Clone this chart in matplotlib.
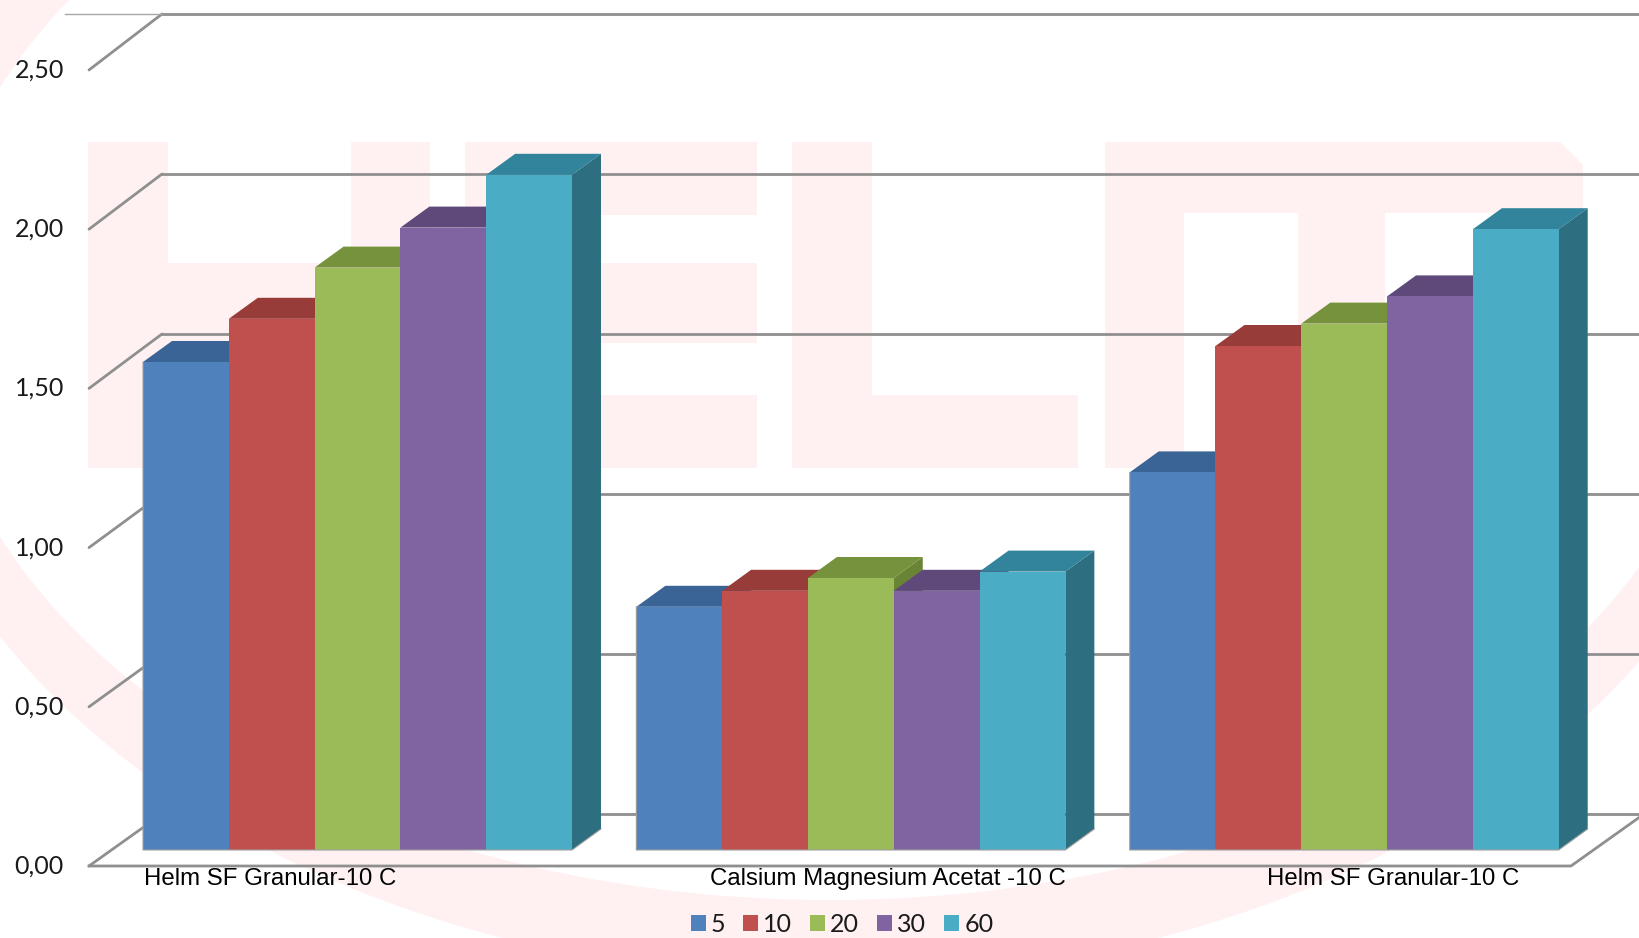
import matplotlib
matplotlib.use('Agg')
import matplotlib.pyplot as plt
from matplotlib.patches import Ellipse, Patch, Polygon, Rectangle

categories = ['Helm SF Granular-10 C', 'Calsium Magnesium Acetat -10 C', 'Helm SF Granular-10 C']
series_names = ['5', '10', '20', '30', '60']
values_5 = [1.525, 0.76, 1.18]
values_10 = [1.66, 0.81, 1.575]
values_20 = [1.82, 0.85, 1.645]
values_30 = [1.945, 0.81, 1.73]
values_60 = [2.11, 0.87, 1.94]
all_values = [values_5, values_10, values_20, values_30, values_60]
y_ticks = [0.0, 0.5, 1.0, 1.5, 2.0, 2.5]
y_labels = ['0,00', '0,50', '1,00', '1,50', '2,00', '2,50']

front_colors = ['#4f81bd', '#c0504d', '#9bbb59', '#8064a2', '#4bacc6']
top_colors = ['#3a6496', '#983c39', '#76923c', '#5f497a', '#31849b']
side_colors = ['#325a88', '#8a3633', '#6a8436', '#55416e', '#2d6e80']
grid_color = '#8f8f8f'
pink = '#fff1f1'

W, H = 1640, 938
PX_PER_X = 85.8   # one bar wide
PX_PER_Y = 320.0  # one unit on the value axis
X0, Y0 = 143.0, 850.0


def X(px):
    return (px - X0) / PX_PER_X


def Y(py):
    return (Y0 - py) / PX_PER_Y


plt.rcParams['font.family'] = ['Lato', 'DejaVu Sans']

fig = plt.figure(figsize=(W / 100, H / 100), dpi=100, facecolor='white')
ax = fig.add_axes([0, 0, 1, 1])
ax.set_xlim(X(0), X(W))
ax.set_ylim(Y(H), Y(0))
ax.axis('off')


def px_rect(x0, y0, x1, y1, color=pink, z=1):
    ax.add_patch(Rectangle((X(x0), Y(y1)), (x1 - x0) / PX_PER_X, (y1 - y0) / PX_PER_Y,
                           facecolor=color, edgecolor='none', zorder=z))


# watermark behind the chart
ax.add_patch(Ellipse((X(830), Y(312)), 2 * 950 / PX_PER_X, 2 * 667 / PX_PER_Y,
                     facecolor=pink, edgecolor='none', zorder=0))
ax.add_patch(Ellipse((X(830), Y(312)), 2 * 898 / PX_PER_X, 2 * 588 / PX_PER_Y,
                     facecolor='white', edgecolor='none', zorder=0.5))
# the ring does not come back at the top right
px_rect(1400, 0, W, 300, color='white', z=0.7)
# H
px_rect(88, 142, 168, 468)
px_rect(351, 142, 430, 468)
px_rect(168, 263, 351, 343)
# E
px_rect(465, 142, 575, 468)
px_rect(465, 142, 757, 215)
px_rect(465, 263, 757, 343)
px_rect(465, 395, 757, 468)
# L
px_rect(792, 142, 872, 468)
px_rect(792, 395, 1078, 468)
# last letter
corner = [(1105, 142), (1560, 142), (1583, 165), (1583, 213), (1105, 213)]
ax.add_patch(Polygon([(X(a), Y(b)) for a, b in corner], facecolor=pink, edgecolor='none', zorder=1))
px_rect(1105, 142, 1184, 468)
px_rect(1298, 142, 1385, 468)
px_rect(1505, 200, 1583, 400)

# walls and floor
depth_x = X(162) - X(89)
back_off = Y(814)
front_x = X(89)
front_off = Y(866)
front_scale = 159.2 / 160   # the front edge ticks sit a little closer together
for v in y_ticks:
    y_f = v * front_scale + front_off
    y_b = v + back_off
    ax.plot([front_x, front_x + depth_x], [y_f, y_b], color=grid_color, lw=2.0, zorder=2,
            solid_capstyle='round')
    ax.plot([front_x + depth_x, X(W + 10)], [y_b, y_b], color=grid_color, lw=2.0, zorder=2)
# thin line at the very top, left of the wall
ax.plot([X(65), front_x + depth_x], [y_ticks[-1] + back_off] * 2, color='#a8a8a8', lw=1.0, zorder=2)
# front and right edge of the floor
ax.plot([front_x, X(1571), X(1571) + depth_x], [front_off, front_off, back_off],
        color=grid_color, lw=2.0, zorder=2)

# bars, drawn left to right so the next one covers the previous side
bar_dx = 29 / PX_PER_X
bar_dy = 21 / PX_PER_Y
group_step = 5.75
z = 3
for g in range(len(categories)):
    start = g * group_step
    for j, vals in enumerate(all_values):
        v = vals[g]
        x = start + j
        ax.add_patch(Polygon([(x + 1, 0), (x + 1 + bar_dx, bar_dy), (x + 1 + bar_dx, v + bar_dy), (x + 1, v)],
                             facecolor=side_colors[j], edgecolor='none', zorder=z))
        ax.add_patch(Polygon([(x, v), (x + bar_dx, v + bar_dy), (x + 1 + bar_dx, v + bar_dy), (x + 1, v)],
                             facecolor=top_colors[j], edgecolor='none', zorder=z))
        ax.bar(x, v, width=1, align='edge', color=front_colors[j], linewidth=0, zorder=z + 0.5)
        z += 1
    # thin grey outline along the foot of the group
    ax.plot([start, start, start + 5, start + 5 + bar_dx], [all_values[0][g], 0, 0, bar_dy],
            color='#a0a0a0', lw=0.8, zorder=z)
    z += 1

# value labels
for v, lab in zip(y_ticks, y_labels):
    ax.text(X(64), v * front_scale + front_off, lab, ha='right', va='center', fontsize=18, color='#1a1a1a',
            zorder=30)

# category labels
label_x = [144, 710, 1267]
for lx, cat in zip(label_x, categories):
    ax.text(X(lx), Y(879), cat, ha='left', va='center', fontsize=17.3, color='black',
            family=['Liberation Sans', 'DejaVu Sans'], zorder=30)

handles = [Patch(facecolor=c, edgecolor='none', label=n) for c, n in zip(front_colors, series_names)]
ax.legend(handles=handles, loc='center', bbox_to_anchor=(842 / W, 1 - 924 / H), ncols=5, frameon=False,
          fontsize=18, handlelength=0.6, handleheight=0.6, handletextpad=0.2, columnspacing=0.72,
          borderpad=0, labelcolor='#1a1a1a')

fig.savefig('out.png', dpi=100)
